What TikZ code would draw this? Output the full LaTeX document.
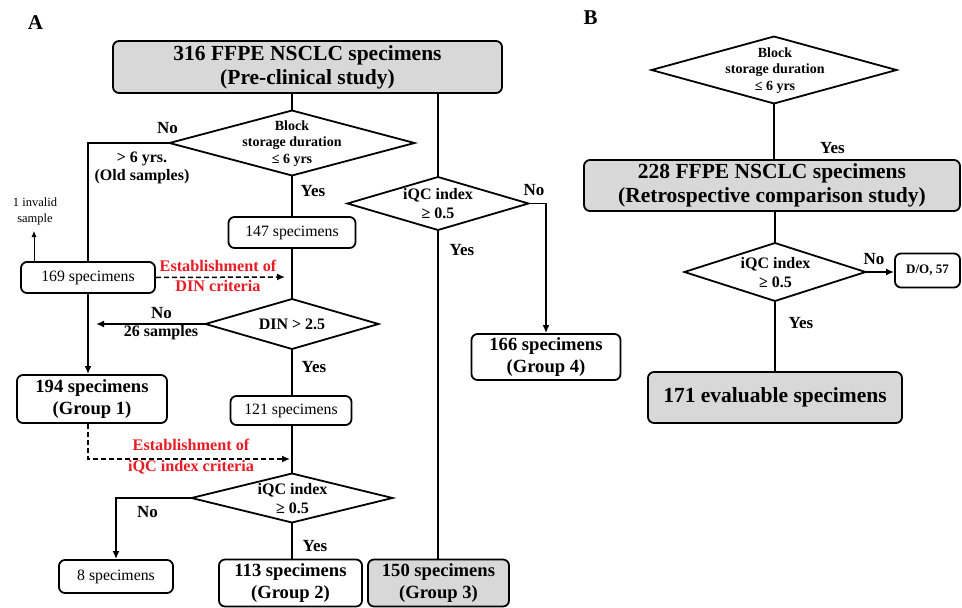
\documentclass[tikz,border=0pt]{standalone}
\usepackage{fontspec}
\setmainfont{Liberation Serif}
\usetikzlibrary{shapes.geometric,arrows.meta}
\definecolor{boxgray}{RGB}{216,216,216}
\definecolor{estred}{RGB}{232,28,36}
\begin{document}
\begin{tikzpicture}[x=1pt,y=-1pt,
  box/.style={draw, line width=1.8pt, rounded corners=6pt, inner sep=0pt, align=center},
  gbox/.style={box, fill=boxgray},
  dia/.style={draw, diamond, line width=1.8pt, inner sep=0pt, outer sep=0pt},
  dtext/.style={align=center, inner sep=0pt, font=\fontsize{14}{16.5}\selectfont\bfseries},
  qtext/.style={align=center, inner sep=0pt, font=\fontsize{16}{19}\selectfont\bfseries},
  conn/.style={line width=1.8pt},
  arr/.style={conn, -{Latex[length=8pt,width=7pt]}},
  dasharr/.style={line width=1.5pt, dash pattern=on 5pt off 3pt, -{Latex[length=8pt,width=7pt]}},
  lbl/.style={inner sep=0pt, font=\fontsize{17}{20}\selectfont\bfseries},
  side/.style={inner sep=0pt, align=center, font=\fontsize{16}{18}\selectfont\bfseries},
  redtxt/.style={inner sep=0pt, align=center, text=estred, font=\fontsize{16.2}{20.5}\selectfont\bfseries},
  ftitle/.style={font=\fontsize{21.5}{24}\selectfont\bfseries},
  fgroup/.style={font=\fontsize{18.6}{22}\selectfont\bfseries},
  fsmall/.style={font=\fontsize{15.8}{18}\selectfont},
  panel/.style={inner sep=0pt, font=\fontsize{21}{24}\selectfont\bfseries}
]
\useasboundingbox (0,0) rectangle (962,608);

% panel labels
\node[panel] (labA) at (35.5,23) {A};
\node[panel] (labB) at (590.5,18) {B};

% ================= Panel A =================
\node[gbox, ftitle, minimum width=389pt, minimum height=52pt] (t1) at (307.5,67) {316 FFPE NSCLC specimens\\(Pre-clinical study)};

\node[dia, minimum width=245pt, minimum height=65pt] (d1) at (292,143) {};
\node[dtext] (d1t) at (292,143.5) {Block\\storage duration\\≤ 6 yrs};

\node[box, fsmall, minimum width=127pt, minimum height=31pt] (b147) at (292,232.5) {147 specimens};
\node[box, fsmall, minimum width=134pt, minimum height=31pt] (b169) at (88,277.5) {169 specimens};

\node[dia, minimum width=173pt, minimum height=50pt] (ddin) at (292,324) {};
\node[qtext] (ddint) at (ddin) {DIN > 2.5};

\node[box, fgroup, minimum width=150pt, minimum height=48pt] (b194) at (92,399) {194 specimens\\(Group 1)};
\node[box, fsmall, minimum width=121pt, minimum height=29pt] (b121) at (291,410.5) {121 specimens};

\node[dia, minimum width=201pt, minimum height=49pt] (d3) at (292,498) {};
\node[qtext] (d3t) at (292.5,498.5) {iQC index\\≥ 0.5};

\node[box, fsmall, minimum width=114pt, minimum height=33pt] (b8) at (116,576.5) {8 specimens};
\node[box, fgroup, minimum width=143pt, minimum height=47pt] (b113) at (290.5,583) {113 specimens\\(Group 2)};
\node[gbox, fgroup, minimum width=141pt, minimum height=47pt] (b150) at (438.5,583) {150 specimens\\(Group 3)};

\node[dia, minimum width=181pt, minimum height=53pt] (d2) at (438,203.5) {};
\node[qtext] (d2t) at (438,204) {iQC index\\≥ 0.5};

\node[box, fgroup, minimum width=149pt, minimum height=46pt] (b166) at (546,357) {166 specimens\\(Group 4)};

% texts panel A
\node[lbl] (no1) at (167.5,128) {No};
\node[side] (old) at (142,168) {> 6 yrs.\\(Old samples)};
\node[lbl] (yes1) at (313,191) {Yes};
\node[inner sep=0pt, align=center, font=\fontsize{12.5}{16}\selectfont] (inv) at (35,211) {1 invalid\\sample};
\coordinate (invEnd) at (34,231);
\node[redtxt] (est1) at (218,276) {Establishment of\\DIN criteria};
\coordinate (dinEnd) at (285,277);
\node[lbl] (no2) at (161.5,313) {No};
\node[side] (s26) at (161,333) {26 samples};
\coordinate (dinNoEnd) at (96,324);
\node[lbl] (yes2) at (314,367) {Yes};
\node[redtxt] (est2) at (191,456.5) {Establishment of\\iQC index criteria};
\coordinate (iqcEnd) at (290,459);
\node[lbl] (no3) at (147.5,512) {No};
\node[lbl] (yes3) at (315,546) {Yes};
\node[lbl] (no4) at (534,190) {No};
\node[lbl] (yes4) at (462,250) {Yes};

% connectors panel A
\draw[conn] (d1.north |- t1.south) -- (d1.north);
\draw[conn] (d2.north |- t1.south) -- (d2.north);
\draw[conn] (d1.west) -| (b169.north);
\draw[conn] (d1.south) -- (d1.south |- b147.north);
\draw[-{Latex[length=6pt,width=5pt]}, line width=0.9pt] (invEnd |- b169.north) -- (invEnd);
\draw[dasharr] (b169.east) -- (dinEnd);
\draw[conn] (ddin.north |- b147.south) -- (ddin.north);
\draw[arr] (ddin.west) -- (dinNoEnd);
\draw[arr] (b169.south) -- (b169.south |- b194.north);
\draw[conn] (ddin.south) -- (ddin.south |- b121.north);
\draw[dasharr] (b194.south -| b169.south) |- (iqcEnd);
\draw[conn] (d3.north |- b121.south) -- (d3.north);
\draw[arr] (d3.west) -| (b8.north);
\draw[conn] (d3.south) -- (d3.south |- b113.north);
\draw[conn] (d2.south) -- (d2.south |- b150.north);
\draw[arr] (d2.east) -| (b166.north);

% ================= Panel B =================
\node[dia, minimum width=245pt, minimum height=67pt] (db1) at (774,70) {};
\node[dtext] (db1t) at (775,70.5) {Block\\storage duration\\≤ 6 yrs};
\node[gbox, ftitle, minimum width=376pt, minimum height=51pt] (b228) at (772,185.5) {228 FFPE NSCLC specimens\\(Retrospective comparison study)};
\node[dia, minimum width=181pt, minimum height=58pt] (db2) at (775,272) {};
\node[qtext] (db2t) at (775.5,272.5) {iQC index\\≥ 0.5};
\node[box, font=\fontsize{13}{15}\selectfont\bfseries, minimum width=65pt, minimum height=34pt] (bdo) at (927.5,270.5) {D/O, 57};
\node[gbox, font=\fontsize{21.5}{24}\selectfont\bfseries, minimum width=254pt, minimum height=51pt] (b171) at (775,397.5) {171 evaluable specimens};

\node[lbl] (yesb1) at (832.5,148) {Yes};
\node[lbl] (nob) at (874,259) {No};
\node[lbl] (yesb2) at (801,323) {Yes};

\draw[conn] (db1.south) -- (db1.south |- b228.north);
\draw[conn] (db2.north |- b228.south) -- (db2.north);
\draw[arr] (db2.east) -- (db2.east -| bdo.west);
\draw[conn] (db2.south) -- (db2.south |- b171.north);
\end{tikzpicture}
\end{document}
